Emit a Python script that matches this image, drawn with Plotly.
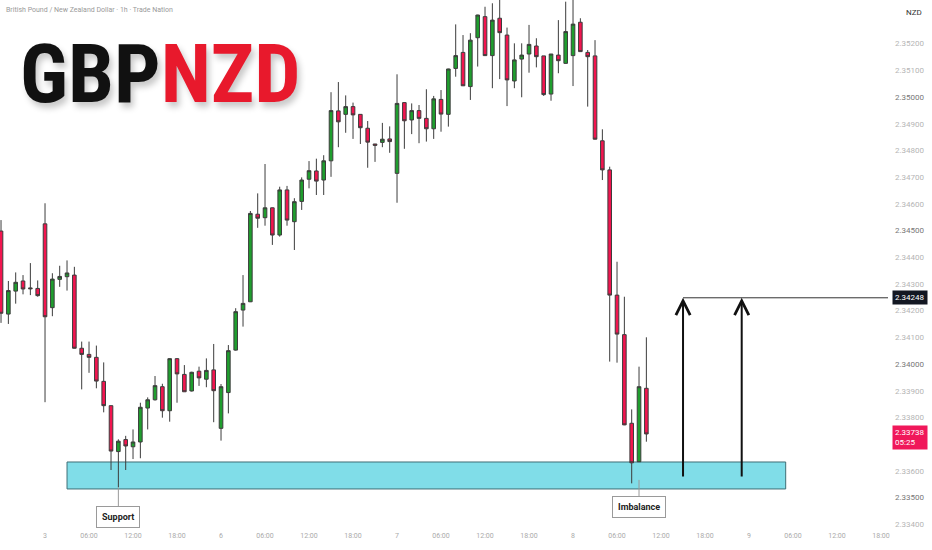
import plotly.graph_objects as go

# hourly bars, counted from 3 Jan 00:00 (weekend skipped)
bar_hour = list(range(-6, 83))

open_ = [2.34498, 2.34187, 2.34273, 2.34311, 2.34285, 2.34283, 2.34525, 2.34211, 2.34317, 2.34327,
         2.34333, 2.34059, 2.34036, 2.34025, 2.33935, 2.33844, 2.33672, 2.33717, 2.33690, 2.33708,
         2.33835, 2.33866, 2.33915, 2.33825, 2.34020, 2.33961, 2.33899, 2.33973, 2.33943, 2.33978,
         2.33759, 2.33893, 2.34052, 2.34202, 2.34233, 2.34561, 2.34548, 2.34585, 2.34483, 2.34652,
         2.34533, 2.34609, 2.34692, 2.34723, 2.34689, 2.34761, 2.34948, 2.34935, 2.34964, 2.34935,
         2.34883, 2.34824, 2.34830, 2.34843, 2.34714, 2.34979, 2.34914, 2.34949, 2.34920, 2.34881,
         2.34991, 2.34935, 2.35107, 2.35167, 2.35039, 2.35222, 2.35301, 2.35155, 2.35295, 2.35232,
         2.35060, 2.35142, 2.35161, 2.35191, 2.35154, 2.35011, 2.35157, 2.35126, 2.35155, 2.35280,
         2.35167, 2.35154, 2.34836, 2.34727, 2.34258, 2.34110, 2.33778, 2.33634, 2.33909]
high = [2.34539, 2.34311, 2.34343, 2.34333, 2.34378, 2.34313, 2.34602, 2.34340, 2.34368, 2.34388,
        2.34364, 2.34084, 2.34084, 2.34069, 2.34006, 2.33844, 2.33718, 2.33731, 2.33755, 2.33855,
        2.33875, 2.33955, 2.33926, 2.34022, 2.34022, 2.33996, 2.33971, 2.33990, 2.34021, 2.34075,
        2.33925, 2.34071, 2.34209, 2.34333, 2.34573, 2.34639, 2.34749, 2.34586, 2.34664, 2.34667,
        2.34621, 2.34699, 2.34760, 2.34769, 2.34782, 2.35018, 2.35056, 2.35006, 2.34979, 2.34935,
        2.34910, 2.34824, 2.34903, 2.34890, 2.35085, 2.34980, 2.34976, 2.34970, 2.35029, 2.35004,
        2.35026, 2.35106, 2.35272, 2.35232, 2.35239, 2.35308, 2.35338, 2.35351, 2.35382, 2.35260,
        2.35201, 2.35201, 2.35270, 2.35220, 2.35154, 2.35161, 2.35288, 2.35357, 2.35382, 2.35295,
        2.35176, 2.35213, 2.34879, 2.34739, 2.34383, 2.34252, 2.33830, 2.33990, 2.34100]
low = [2.34154, 2.34150, 2.34226, 2.34261, 2.34258, 2.34252, 2.33857, 2.34179, 2.34289, 2.34275,
       2.34058, 2.33905, 2.33967, 2.33909, 2.33819, 2.33603, 2.33539, 2.33603, 2.33644, 2.33647,
       2.33755, 2.33863, 2.33799, 2.33784, 2.33855, 2.33896, 2.33897, 2.33918, 2.33913, 2.33782,
       2.33713, 2.33815, 2.34050, 2.34140, 2.34232, 2.34510, 2.34518, 2.34446, 2.34477, 2.34518,
       2.34427, 2.34577, 2.34658, 2.34633, 2.34633, 2.34701, 2.34812, 2.34866, 2.34843, 2.34824,
       2.34735, 2.34757, 2.34812, 2.34791, 2.34604, 2.34806, 2.34861, 2.34827, 2.34833, 2.34843,
       2.34870, 2.34889, 2.35076, 2.35041, 2.34989, 2.35114, 2.35154, 2.35033, 2.35067, 2.34966,
       2.35033, 2.34999, 2.35091, 2.35111, 2.35004, 2.34986, 2.35089, 2.35125, 2.35041, 2.35169,
       2.34964, 2.34841, 2.34689, 2.34009, 2.34005, 2.33771, 2.33553, 2.33633, 2.33709]
close = [2.34190, 2.34275, 2.34306, 2.34281, 2.34282, 2.34256, 2.34177, 2.34318, 2.34328, 2.34341,
         2.34059, 2.34036, 2.34025, 2.33936, 2.33844, 2.33674, 2.33711, 2.33693, 2.33708, 2.33838,
         2.33866, 2.33919, 2.33825, 2.34020, 2.33963, 2.33896, 2.33969, 2.33948, 2.33976, 2.33900,
         2.33915, 2.34050, 2.34196, 2.34227, 2.34564, 2.34546, 2.34585, 2.34483, 2.34652, 2.34539,
         2.34608, 2.34689, 2.34724, 2.34685, 2.34761, 2.34949, 2.34907, 2.34964, 2.34933, 2.34885,
         2.34831, 2.34819, 2.34842, 2.34833, 2.34976, 2.34911, 2.34949, 2.34920, 2.34881, 2.34993,
         2.34936, 2.35105, 2.35155, 2.35042, 2.35213, 2.35307, 2.35155, 2.35288, 2.35241, 2.35064,
         2.35139, 2.35157, 2.35197, 2.35151, 2.35009, 2.35161, 2.35136, 2.35245, 2.35273, 2.35170,
         2.35151, 2.34842, 2.34727, 2.34258, 2.34112, 2.33772, 2.33630, 2.33915, 2.33738]

x_tick_pos = [-6, 0, 6, 12, 18, 24, 30, 36, 42, 48, 54, 60, 66, 72, 78, 84, 90, 96, 102, 108, 114]
x_tick_text = ["18:00", "3", "06:00", "12:00", "18:00", "6", "06:00", "12:00", "18:00", "7",
               "06:00", "12:00", "18:00", "8", "06:00", "12:00", "18:00", "9", "06:00", "12:00", "18:00"]
# 2.33700 sits under the live price tag
y_tick_vals = [2.334, 2.335, 2.336, 2.338, 2.339, 2.340, 2.341, 2.342, 2.343,
               2.344, 2.345, 2.346, 2.347, 2.348, 2.349, 2.350, 2.351, 2.352]

# support zone and target
zone_start, zone_end = 3, 101
zone_bottom, zone_top = 2.33532, 2.33633
target_price = 2.34248
arrow_hours = [87, 95]
arrow_base = 2.33573
last_price = 2.33738
support_point = (10, 2.33539)
imbalance_point = (81, 2.33566)

RED = "#f2154f"
GREEN = "#1f9e2e"

fig = go.Figure(go.Candlestick(
    x=bar_hour, open=open_, high=high, low=low, close=close,
    increasing=dict(fillcolor=GREEN, line=dict(color="#3c3c3c", width=1)),
    decreasing=dict(fillcolor=RED, line=dict(color="#3c3c3c", width=1)),
    showlegend=False, hoverinfo="skip",
))

# demand zone
fig.add_shape(type="rect", x0=zone_start, x1=zone_end, y0=zone_bottom, y1=zone_top,
              fillcolor="#80dde8", line=dict(color="#3f6e76", width=1), layer="below")

# target line
fig.add_shape(type="line", x0=arrow_hours[0], x1=120, y0=target_price, y1=target_price,
              line=dict(color="#333333", width=1))

for h in arrow_hours:
    fig.add_annotation(x=h, y=target_price, ax=h, ay=arrow_base, axref="x", ayref="y",
                       showarrow=True, arrowhead=5, arrowsize=1.4, arrowwidth=2,
                       arrowcolor="#111111", text="")

callout = dict(showarrow=True, arrowhead=0, arrowwidth=1, arrowcolor="#9a9a9a",
               bgcolor="white", bordercolor="#9a9a9a", borderwidth=1, borderpad=5,
               font=dict(family="Roboto, sans-serif", size=9, color="#222222", weight="bold"))
fig.add_annotation(x=support_point[0], y=support_point[1], ax=0, ay=30, text="Support", **callout)
fig.add_annotation(x=imbalance_point[0], y=imbalance_point[1], ax=0, ay=27, text="Imbalance", **callout)

# logo
fig.add_annotation(xref="paper", yref="paper", x=0.02, y=0.955, xanchor="left", yanchor="top",
                   showarrow=False,
                   text="GBP<span style='color:#e8192c'>NZD</span>",
                   font=dict(family="Roboto Condensed, Liberation Sans Narrow, DejaVu Sans Condensed, sans-serif",
                             size=82, color="#111111", weight="bold",
                             shadow="3px 5px 6px rgba(0,0,0,0.22)"))

fig.add_annotation(xref="paper", yref="paper", x=0.004, y=1, xanchor="left", yanchor="top",
                   yshift=-4, showarrow=False,
                   text="British Pound / New Zealand Dollar · 1h · Trade Nation",
                   font=dict(family="Roboto, sans-serif", size=7, color="#9a9a9a"))

fig.add_annotation(xref="paper", yref="paper", x=1, y=1, xanchor="left", yanchor="top",
                   xshift=16, yshift=-6, showarrow=False, text="NZD",
                   font=dict(family="Roboto, sans-serif", size=8, color="#333333"))

# price tags on the scale
fig.add_annotation(xref="paper", x=1, y=target_price, xanchor="left", xshift=4,
                   showarrow=False, text="2.34248", bgcolor="#131722", borderpad=2,
                   font=dict(family="Roboto, sans-serif", size=8, color="white"))
fig.add_annotation(xref="paper", x=1, y=last_price, xanchor="left", xshift=4, yshift=-4,
                   showarrow=False, text="2.33738<br>05:25", align="left", bgcolor="#f0185a",
                   borderpad=2, font=dict(family="Roboto, sans-serif", size=8, color="white"))

y_tick_text = []
for v in y_tick_vals:
    label = f"{v:.5f}"
    if round(v * 1000) % 5 == 0:
        label = f"<span style='color:#777'>{label}</span>"
    y_tick_text.append(label)

fig.update_layout(
    width=932, height=550,
    margin=dict(l=0, r=44, t=0, b=20),
    paper_bgcolor="white", plot_bgcolor="white",
    font=dict(family="Roboto, sans-serif", size=8, color="#b0b0b0"),
    xaxis=dict(range=[-6.14, 114.95], rangeslider=dict(visible=False),
               tickvals=x_tick_pos, ticktext=x_tick_text, showgrid=False,
               zeroline=False, showline=False, tickfont=dict(size=7, color="#aaaaaa")),
    yaxis=dict(side="right", range=[2.333783, 2.353633], tickvals=y_tick_vals,
               ticktext=y_tick_text, showgrid=False, zeroline=False, showline=False,
               ticklabelstandoff=6, tickfont=dict(size=8, color="#b5b5b5")),
)

fig.write_html("out.html", config={"displayModeBar": False},
               post_script="document.body.style.margin='0';")
